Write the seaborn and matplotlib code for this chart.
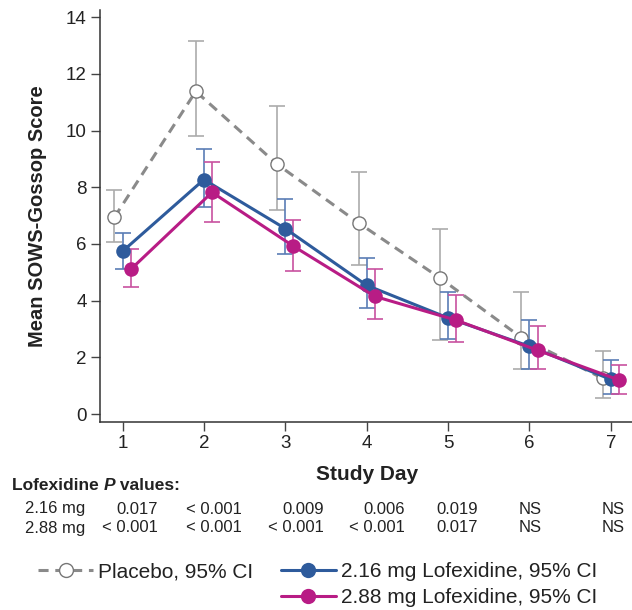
import numpy as np
import pandas as pd
import matplotlib
matplotlib.use('Agg')
import matplotlib.pyplot as plt
from matplotlib.lines import Line2D
import seaborn as sns

# 数据
days = [1, 2, 3, 4, 5, 6, 7]

placebo_mean = [6.94, 11.38, 8.81, 6.74, 4.80, 2.70, 1.26]
placebo_lo = [6.07, 9.81, 7.18, 5.27, 2.62, 1.58, 0.55]
placebo_hi = [7.89, 13.17, 10.86, 8.53, 6.54, 4.30, 2.22]

dose216_mean = [5.74, 8.27, 6.54, 4.54, 3.39, 2.39, 1.22]
dose216_lo = [5.10, 7.32, 5.66, 3.73, 2.63, 1.58, 0.69]
dose216_hi = [6.38, 9.34, 7.57, 5.49, 4.30, 3.33, 1.90]

dose288_mean = [5.10, 7.82, 5.92, 4.15, 3.31, 2.25, 1.20]
dose288_lo = [4.47, 6.78, 5.04, 3.35, 2.55, 1.58, 0.69]
dose288_hi = [5.81, 8.88, 6.86, 5.11, 4.21, 3.11, 1.74]

p_216 = ['0.017', '< 0.001', '0.009', '0.006', '0.019', 'NS', 'NS']
p_288 = ['< 0.001', '< 0.001', '< 0.001', '< 0.001', '0.017', 'NS', 'NS']

labels = ['Placebo, 95% CI', '2.16 mg Lofexidine, 95% CI', '2.88 mg Lofexidine, 95% CI']

sns.set_theme(style='ticks')
plt.rcParams['font.family'] = ['Liberation Sans', 'DejaVu Sans']

W, H = 632, 610
fig = plt.figure(figsize=(W / 100, H / 100), dpi=100)
ax = fig.add_axes([100 / W, 1 - 422 / H, (W - 100) / W, (422 - 10) / H])

blue = '#2e5b9c'
magenta = '#b81c85'
grey_line = '#8a8a8a'
grey_err = '#ababab'

groups = [
    (placebo_mean, placebo_lo, placebo_hi, -0.1, grey_line, grey_err, 'white', '#777777', (0, (3.3, 2.2))),
    (dose216_mean, dose216_lo, dose216_hi, 0.0, blue, '#5a7db5', blue, blue, '-'),
    (dose288_mean, dose288_lo, dose288_hi, 0.1, magenta, '#c8519f', magenta, magenta, '-'),
]

for mean, lo, hi, off, col, ecol, mfc, mec, ls in groups:
    x = np.array(days) + off
    mean = np.array(mean)
    yerr = [mean - np.array(lo), np.array(hi) - mean]
    ax.errorbar(x, mean, yerr=yerr, fmt='none', ecolor=ecol, elinewidth=1.2,
                capsize=6, capthick=1.2, zorder=2)
    df = pd.DataFrame({'day': x, 'score': mean})
    sns.lineplot(data=df, x='day', y='score', ax=ax, color=col, linewidth=2.2,
                 linestyle=ls, marker='o', markersize=10.5 if mfc != 'white' else 9.5,
                 markerfacecolor=mfc, markeredgecolor=mec,
                 markeredgewidth=1.0 if mfc == 'white' else 0, errorbar=None, zorder=3)

ax.set_xlim(0.723, 7.26)
ax.set_ylim(-0.28, 14.25)
ax.set_xticks(days)
ax.set_yticks(range(0, 15, 2))
ax.tick_params(axis='both', labelsize=13.5, length=6.5, width=1, color='#444444',
               labelcolor='#222222', direction='out', pad=3)
for s in ['top', 'right']:
    ax.spines[s].set_visible(False)
for s in ['left', 'bottom']:
    ax.spines[s].set_color('#333333')
    ax.spines[s].set_linewidth(1.1)

ax.set_xlabel('Study Day', fontsize=15, fontweight='bold', color='#222222')
ax.xaxis.set_label_coords((367 - 100) / 532, (422 - 474) / 412)
ax.xaxis.label.set_va('center')
ax.set_ylabel('Mean SOWS-Gossop Score', fontsize=14.5, fontweight='bold', color='#222222')
ax.yaxis.set_label_coords((38 - 100) / 532, 0.5)
ax.yaxis.label.set_va('center')

# P value table
fig.canvas.draw()
r = fig.canvas.get_renderer()
x0 = 12 / W
yh = 1 - 486 / H
parts = [('Lofexidine ', 'normal'), ('P', 'italic'), (' values:', 'normal')]
for txt, sty in parts:
    t = fig.text(x0, yh, txt, fontsize=12.5, fontweight='bold', fontstyle=sty,
                 va='center', ha='left', color='#222222')
    bb = t.get_window_extent(renderer=r)
    x0 += bb.width / W

col_right = [158, 242, 324, 405, 478, 542, 625]
for row_lab, vals, py in [('2.16 mg', p_216, 509), ('2.88 mg', p_288, 528)]:
    fig.text(25 / W, 1 - py / H, row_lab, fontsize=12, va='center', ha='left', color='#222222')
    for xr, v in zip(col_right, vals):
        fig.text(xr / W, 1 - py / H, v, fontsize=12, va='center', ha='right', color='#222222')

# legend
h_pl = Line2D([], [], color=grey_line, linewidth=2.2, linestyle=(0, (3.3, 2.2)), marker='o',
              markersize=10, markerfacecolor='white', markeredgecolor='#777777', markeredgewidth=1.0)
h_blank = Line2D([], [], linestyle='none', marker='none')
h_216 = Line2D([], [], color=blue, linewidth=2.2, marker='o', markersize=11, markeredgewidth=0)
h_288 = Line2D([], [], color=magenta, linewidth=2.2, marker='o', markersize=11, markeredgewidth=0)
fig.legend(handles=[h_pl, h_blank, h_216, h_288], labels=[labels[0], '', labels[1], labels[2]],
           ncol=2, loc='upper left', bbox_to_anchor=(38 / W, 1 - 562 / H),
           frameon=False, fontsize=15, handlelength=2.65, handletextpad=0.25,
           columnspacing=1.3, labelspacing=0.35, borderpad=0, borderaxespad=0,
           labelcolor='#222222')

fig.savefig('out.png', dpi=100)
